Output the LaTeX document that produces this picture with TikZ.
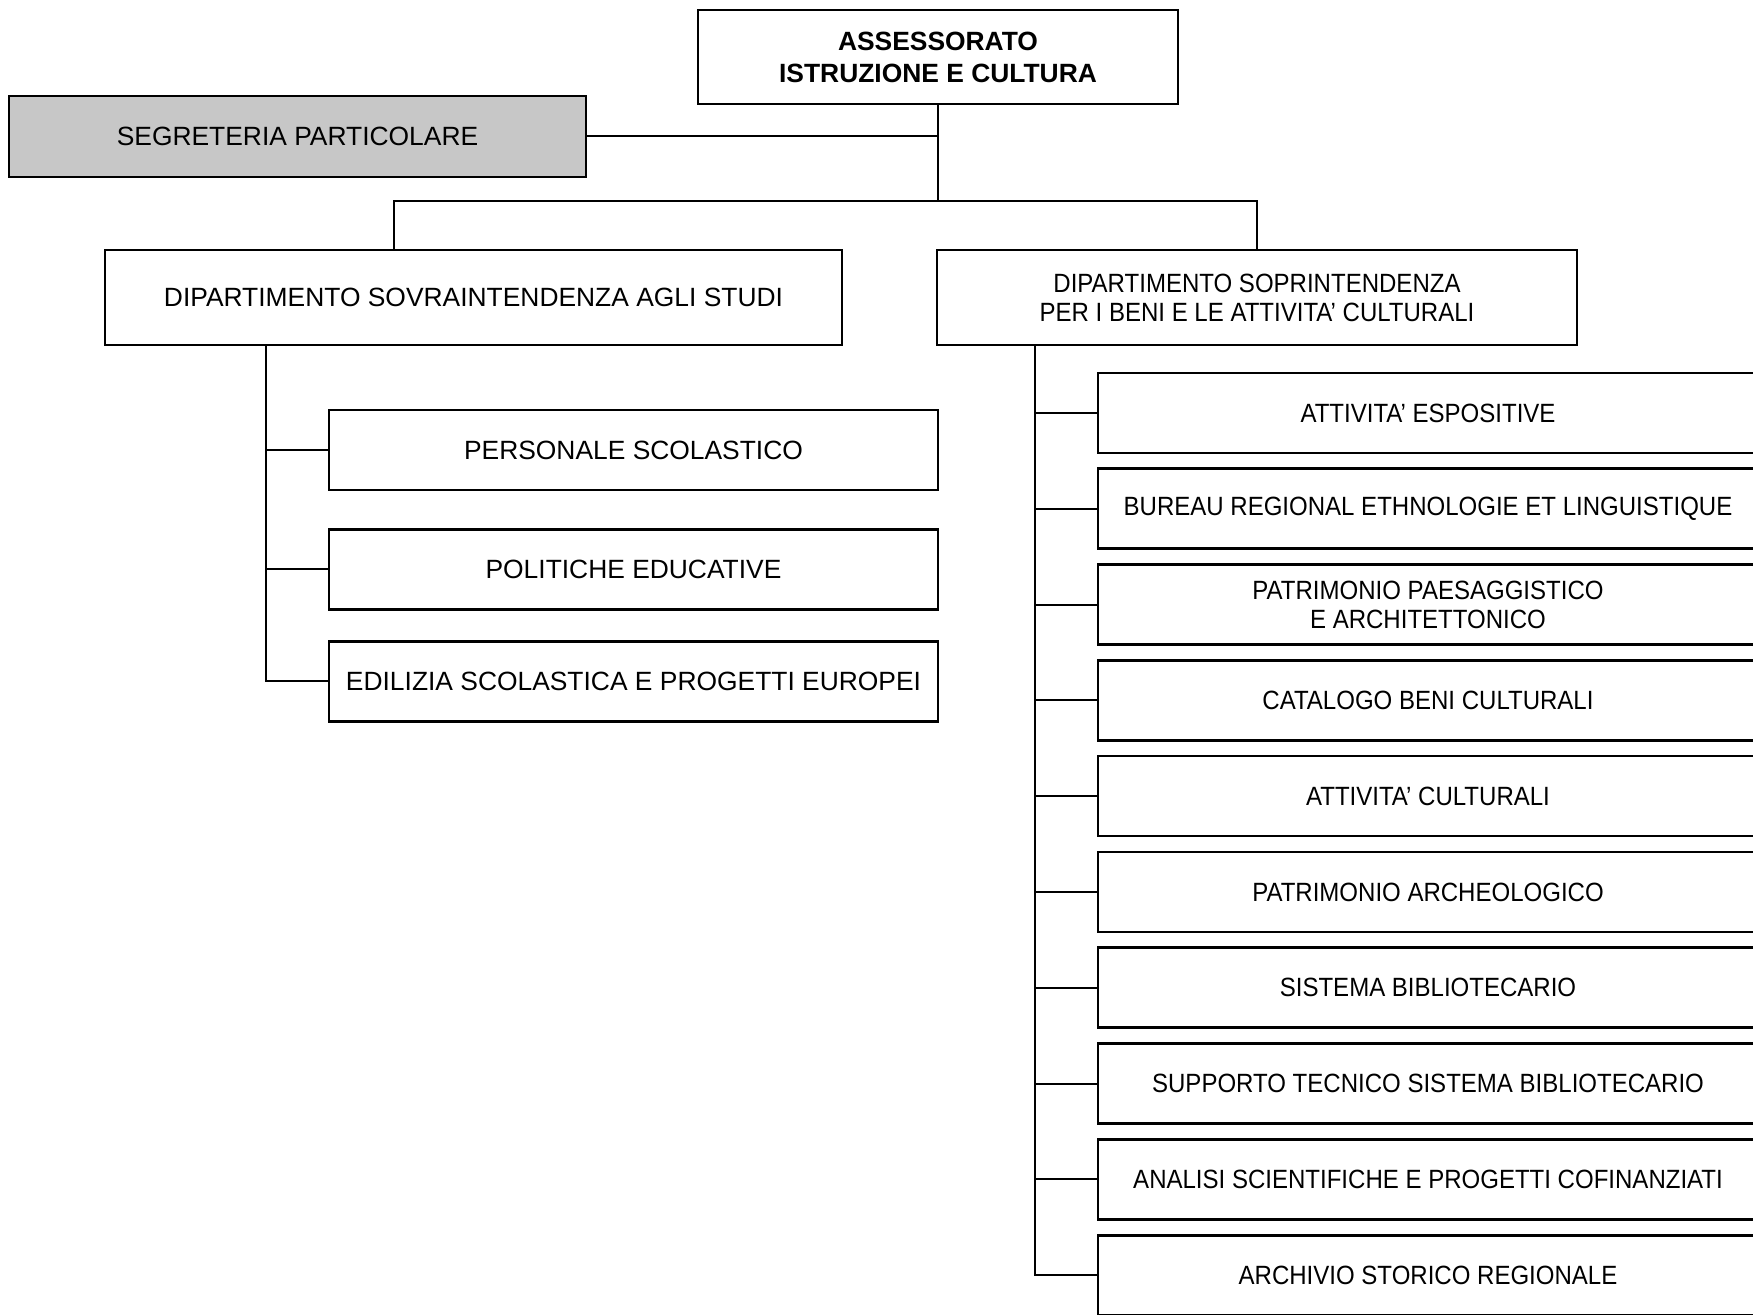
\documentclass[tikz,border=0pt]{standalone}
\usepackage{fontspec}
\setmainfont{Liberation Sans}
\newfontfamily\narrowsans[FakeStretch=0.91]{Liberation Sans}
\begin{document}
\begin{tikzpicture}[x=0.5pt,y=-0.5pt,
    box/.style={draw,line width=1.3pt,inner sep=0pt,align=center,font=\fontsize{13.2}{14.5}\selectfont},
    narrowbox/.style={box,font=\narrowsans\fontsize{13.2}{14.5}\selectfont},
    conn/.style={line width=1pt}]
        \useasboundingbox (0,0) rectangle (1753,1315);
        \clip (0,0) rectangle (1753,1315);
        \node[box,minimum width=240pt,minimum height=47pt,font=\bfseries\fontsize{13.2}{16}\selectfont] (asses) at (938,57) {ASSESSORATO\\ISTRUZIONE E CULTURA};
        \node[box,fill=black!22,minimum width=288.5pt,minimum height=40.5pt] (segr) at (297.5,136.5) {SEGRETERIA PARTICOLARE};
        \node[box,minimum width=368.5pt,minimum height=47.5pt] (dipstudi) at (473.5,297.5) {DIPARTIMENTO SOVRAINTENDENZA AGLI STUDI};
        \node[narrowbox,minimum width=320pt,minimum height=47.5pt] (dipbeni) at (1257,297.5) {DIPARTIMENTO SOPRINTENDENZA\\PER I BENI E LE ATTIVITA’ CULTURALI};
        % uffici sovraintendenza
        \foreach \n/\y/\t in {1/450/PERSONALE SCOLASTICO, 2/569.5/POLITICHE EDUCATIVE, 3/681.5/EDILIZIA SCOLASTICA E PROGETTI EUROPEI}
            \node[box,minimum width=304.5pt,minimum height=40pt] (ls\n) at (633.5,\y) {\t};
        % uffici soprintendenza
        \foreach \n/\t [evaluate=\n as \yy using 413+95.8*(\n-1)] in {1/ATTIVITA’ ESPOSITIVE, 2/BUREAU REGIONAL ETHNOLOGIE ET LINGUISTIQUE, 3/{PATRIMONIO PAESAGGISTICO\\E ARCHITETTONICO}, 4/CATALOGO BENI CULTURALI, 5/ATTIVITA’ CULTURALI, 6/PATRIMONIO ARCHEOLOGICO, 7/SISTEMA BIBLIOTECARIO, 8/SUPPORTO TECNICO SISTEMA BIBLIOTECARIO, 9/ANALISI SCIENTIFICHE E PROGETTI COFINANZIATI, 10/ARCHIVIO STORICO REGIONALE}
            \node[narrowbox,minimum width=330pt,minimum height=40pt] (rb\n) at (1428,\yy) {\t};
        \coordinate (bl) at (393.5,201);
        \coordinate (tl) at (266,0);
        \coordinate (tr) at (1035,0);
        \draw[conn] (asses.south) -- (asses.south |- bl);
        \draw[conn] (segr.east) -- (segr.east -| asses.south);
        \draw[conn] (bl |- dipstudi.north) -- (bl) -| (dipbeni.north);
        \draw[conn] (tl |- dipstudi.south) |- (ls3.west);
        \foreach \n in {1,2}
            \draw[conn] (tl |- ls\n.west) -- (ls\n.west);
        \draw[conn] (tr |- dipbeni.south) |- (rb10.west);
        \foreach \n in {1,...,9}
            \draw[conn] (tr |- rb\n.west) -- (rb\n.west);
\end{tikzpicture}
\end{document}
